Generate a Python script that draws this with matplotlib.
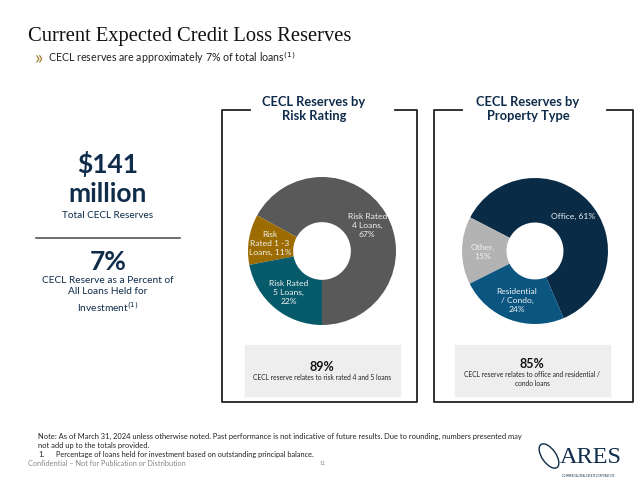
import numpy as np
import matplotlib.pyplot as plt
from matplotlib.patches import Rectangle, Ellipse

plt.rcParams['font.family'] = ['Lato', 'DejaVu Sans']

# data
risk_labels = ['Risk Rated\n4 Loans,\n67%', 'Risk\nRated 1 -3\nLoans, 11%', 'Risk Rated\n5 Loans,\n22%']
risk_values = [67, 11, 22]
risk_colors = ['#595959', '#9c6c00', '#075a6a']

prop_labels = ['Office, 61%', 'Other,\n15%', 'Residential\n/ Condo,\n24%']
prop_values = [61, 15, 24]
prop_colors = ['#0a2b45', '#b3b3b3', '#0b5581']

W, H = 640, 481
navy = '#0f2c4a'

fig = plt.figure(figsize=(6.4, 4.81), dpi=100)
bg = fig.add_axes([0, 0, 1, 1])
bg.set_xlim(0, W)
bg.set_ylim(H, 0)
bg.axis('off')

# title
bg.text(28, 37, 'Current Expected Credit Loss Reserves', family='Liberation Serif',
        fontsize=14.8, color='#111111', va='center', ha='left')
bg.text(35, 58, '»', fontsize=14, color='#a07a2a', va='center', ha='left')
bg.text(48, 58, 'CECL reserves are approximately 7% of total loans$^{(1)}$', fontsize=7.7,
        color='#222222', va='center', ha='left')

# left stats
bg.text(108, 164, '$141', fontsize=19, fontweight='bold', color=navy, ha='center', va='center')
bg.text(108, 194, 'million', fontsize=19, fontweight='bold', color=navy, ha='center', va='center')
bg.text(108, 216, 'Total CECL Reserves', fontsize=7.2, color=navy, ha='center', va='center')
bg.plot([36, 180], [239, 239], color='#555555', lw=1.2)
bg.text(108, 262, '7%', fontsize=19, fontweight='bold', color=navy, ha='center', va='center')
bg.text(108, 295, 'CECL Reserve as a Percent of\nAll Loans Held for\nInvestment$^{(1)}$',
        fontsize=7.3, color=navy, ha='center', va='center', linespacing=1.3)

# panel frames
def panel(x0, x1, gap0, gap1, title, tx):
    y0, y1 = 111, 403
    bg.plot([gap0, x0, x0, x1, x1, gap1], [y0, y0, y1, y1, y0, y0], color='#222222', lw=1.3)
    bg.text(tx, 109, title, fontsize=9.3, fontweight='bold', color=navy, ha='center',
            va='center', linespacing=1.2)

panel(222, 417, 250, 395, 'CECL Reserves by\nRisk Rating', 314)
panel(434, 633, 462, 607, 'CECL Reserves by\nProperty Type', 528)

# grey notes
bg.add_patch(Rectangle((245, 346), 155, 51, color='#eeeeee'))
bg.add_patch(Rectangle((455, 346), 155, 51, color='#eeeeee'))
bg.text(322, 367, '89%', fontsize=9, fontweight='bold', color='#111111', ha='center', va='center')
bg.text(322, 378, 'CECL reserve relates to risk rated 4 and 5 loans', fontsize=4.8,
        color='#222222', ha='center', va='center')
bg.text(532, 364, '85%', fontsize=9, fontweight='bold', color='#111111', ha='center', va='center')
bg.text(532, 379, 'CECL reserve relates to office and residential /\ncondo loans', fontsize=4.8,
        color='#222222', ha='center', va='center', linespacing=1.4)

# donuts
def donut(cx, cy, r, values, labels, colors, start):
    ax = fig.add_axes([(cx - r) / W, (H - cy - r) / H, 2 * r / W, 2 * r / H])
    wedges, texts = ax.pie(values, labels=labels, colors=colors, startangle=start,
                           counterclock=True, labeldistance=0.71,
                           wedgeprops=dict(width=0.61, linewidth=0))
    for t in texts:
        t.set_ha('center')
        t.set_va('center')
        t.set_fontsize(6.1)
        t.set_color('#f2f2f2')
        t.set_linespacing(1.3)
    ax.set_xlim(-1, 1)
    ax.set_ylim(-1, 1)
    return ax

donut(322, 252, 74, risk_values, risk_labels, risk_colors, 270)
donut(535, 252, 73, prop_values, prop_labels, prop_colors, 293)

# footer
bg.text(38, 441, 'Note: As of March 31, 2024 unless otherwise noted. Past performance is not indicative of '
        'future results. Due to rounding, numbers presented may\nnot add up to the totals provided.',
        fontsize=5.4, color='#222222', ha='left', va='center', linespacing=1.3)
bg.text(38, 455, '1.', fontsize=5.4, color='#222222', ha='left', va='center')
bg.text(56, 455, 'Percentage of loans held for investment based on outstanding principal balance.',
        fontsize=5.3, color='#222222', ha='left', va='center')
bg.text(28, 464, 'Confidential – Not for Publication or Distribution', fontsize=5.3,
        color='#888888', ha='left', va='center')
bg.text(323, 464, '11', fontsize=4, color='#888888', ha='center', va='center')

# logo
bg.add_patch(Ellipse((549, 457), 14, 28, angle=-35, fill=False, color='#0f2c4a', lw=1))
bg.text(560, 458, 'ARES', family='Liberation Serif', fontsize=17.5, color=navy, ha='left', va='center')
bg.text(588, 476, 'COMMERCIAL REAL ESTATE CORPORATION', fontsize=1.8, color=navy, ha='center', va='center')

fig.savefig('out.png', dpi=100)
